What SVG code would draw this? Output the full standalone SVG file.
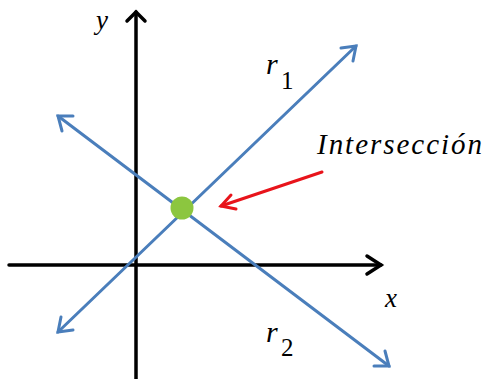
<svg xmlns="http://www.w3.org/2000/svg" width="485" height="379" viewBox="0 0 485 379">
<rect width="485" height="379" fill="#fff"/>
<text x="96" y="29" font-size="27" font-style="italic" font-family="Liberation Serif">y</text>
<text x="266" y="74" font-size="30" font-style="italic" font-family="Liberation Serif">r</text>
<text x="281" y="89" font-size="25" font-family="Liberation Serif">1</text>
<text x="266" y="342" font-size="30" font-style="italic" font-family="Liberation Serif">r</text>
<text x="281" y="356" font-size="25" font-family="Liberation Serif">2</text>
<text x="385" y="307" font-size="27" font-style="italic" font-family="Liberation Serif">x</text>
<text x="317" y="154" font-size="29" font-style="italic" font-family="Liberation Serif" textLength="165" lengthAdjust="spacing">Intersección</text>
<g id="axes" stroke="#000" stroke-width="3.5" fill="none" stroke-linecap="round">
<line x1="136" y1="379" x2="136" y2="12"/>
<path d="M127,21 L136,12 L145,21"/>
<line x1="9" y1="265" x2="381" y2="265"/>
<path d="M367,256 L381,265 L367,274"/>
</g>
<g id="connectors" fill="none" stroke-width="3" stroke-linecap="round">
<g stroke="#4a7ebb">
<line x1="58" y1="332" x2="356" y2="46"/>
<path d="M341,48 L356,46 L353,61"/>
<path d="M61,317 L58,332 L73,330"/>
<line x1="58" y1="116" x2="389" y2="366"/>
<path d="M73,116 L58,116 L62,131"/>
<path d="M374,366 L389,366 L385,351"/>
</g>
<g stroke="#e8141b">
<line x1="322" y1="172" x2="221" y2="206"/>
<path d="M231,195 L221,206 L236,209"/>
</g>
</g>
<g id="intersection">
<circle cx="182" cy="208" r="11.5" fill="#8cc63f"/>
</g>
</svg>
